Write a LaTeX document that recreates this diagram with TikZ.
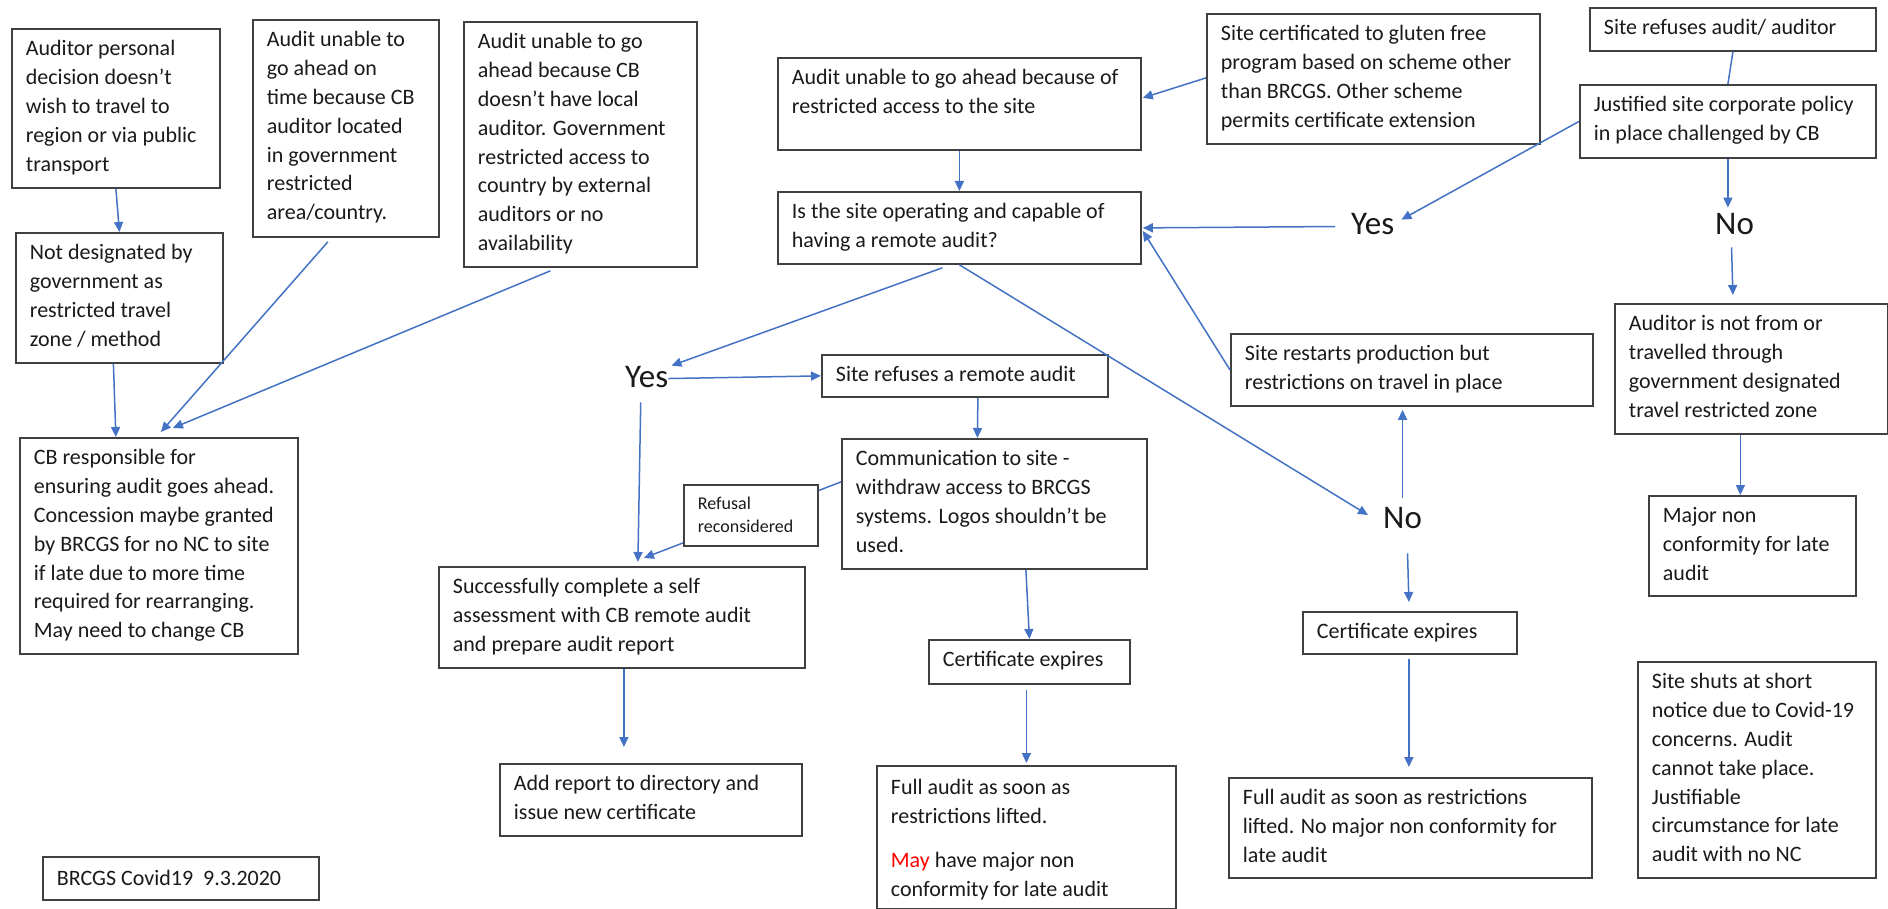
\documentclass[tikz,border=0pt]{standalone}
\usepackage{fontspec}
\setmainfont{Carlito}
\usetikzlibrary{arrows.meta,calc}
\definecolor{arr}{HTML}{4472C4}
\definecolor{edge}{HTML}{404040}
\definecolor{ink}{HTML}{1A1A1A}
\tikzset{
  bx/.style={draw=edge, line width=1.8pt, fill=white, inner sep=0pt, anchor=north west,
    text=ink, font=\fontsize{22}{28.8}\selectfont},
  con/.style={draw=arr, line width=1.5pt, -{Triangle[length=10pt,width=9pt]}},
  plain/.style={draw=arr, line width=1.5pt},
  lab/.style={inner sep=0pt, font=\fontsize{33}{36}\selectfont, text=ink, anchor=base west},
}
% [first baseline]{name}{x}{y}{w}{h}{text}
\newcommand{\bx}[7][27]{%
  \node[bx] (#2) at (#3,#4) {\hspace*{14pt}\parbox[t][#6pt][t]{\dimexpr#5pt-18pt\relax}{\raggedright\rule{0pt}{#1pt}#7}\hspace*{4pt}};%
}
\begin{document}
\begin{tikzpicture}[x=1pt,y=-1pt]
\useasboundingbox (0,0) rectangle (1888,909);
\fill[white] (0,0) rectangle (1888,909);

\bx{A}{11}{28}{208}{159}{Auditor personal\\decision doesn’t\\wish to travel to\\region or via public\\transport}
\bx{B}{252}{19}{186}{217}{Audit unable to\\go ahead on\\time because CB\\auditor located\\in government\\restricted\\area/country.}
\bx{C}{463}{21}{233}{245}{Audit unable to go\\ahead because CB\\doesn’t have local\\auditor. Government\\restricted access to\\country by external\\auditors or no\\availability}
\bx{D}{15}{232}{207}{130}{Not designated by\\government as\\restricted travel\\zone / method}
\bx{E}{19}{437}{278}{216}{CB responsible for\\ensuring audit goes ahead.\\Concession maybe granted\\by BRCGS for no NC to site\\if late due to more time\\required for rearranging.\\May need to change CB}
\bx{F}{777}{57}{363}{92}{Audit unable to go ahead because of\\restricted access to the site}
\bx{G}{777}{191}{363}{72}{Is the site operating and capable of\\having a remote audit?}
\bx{H}{1206}{13}{333}{130}{Site certificated to gluten free\\program based on scheme other\\than BRCGS. Other scheme\\permits certificate extension}
\bx{N}{1589}{7}{286}{43}{Site refuses audit/ auditor}
\bx{O}{1579}{84}{296}{73}{Justified site corporate policy\\in place challenged by CB}
\bx{M}{1614}{303}{273}{130}{Auditor is not from or\\travelled through\\government designated\\travel restricted zone}
\bx{R}{1230}{333}{362}{72}{Site restarts production but\\restrictions on travel in place}
\bx{I}{821}{354}{286}{42}{Site refuses a remote audit}
\bx{J}{841}{438}{305}{130}{Communication to site -\\withdraw access to BRCGS\\systems. Logos shouldn’t be\\used.}
\bx{K}{438}{566}{366}{101}{Successfully complete a self\\assessment with CB remote audit\\and prepare audit report}
\bx{L}{499}{763}{302}{72}{Add report to directory and\\issue new certificate}
\bx{CA}{928}{639}{201}{44}{Certificate expires}
\bx[29]{FA}{876}{765}{299}{143}{Full audit as soon as\\restrictions lifted.\\[15pt]\textcolor{red}{May} have major non\\conformity for late audit}
\bx{CB}{1302}{611}{214}{42}{Certificate expires}
\bx{FB}{1228}{777}{363}{100}{Full audit as soon as restrictions\\lifted. No major non conformity for\\late audit}
\bx{MJ}{1648}{495}{207}{100}{Major non\\conformity for late\\audit}
\bx{S}{1637}{661}{238}{216}{Site shuts at short\\notice due to Covid-19\\concerns. Audit\\cannot take place.\\Justifiable\\circumstance for late\\audit with no NC}
\bx[29]{FT}{42}{856}{276}{43}{BRCGS Covid19\ \ 9.3.2020}

\node[lab] (YL) at (625,387) {Yes};
\node[lab] (YR) at (1351,235) {Yes};
\node[lab] (NR) at (1715,235) {No};
\node[lab] (NB) at (1383,528) {No};

% connectors
\draw[con] (A.south) -- (D.north);
\draw[con] ($(D.south)+(-6,0)$) -- ($(E.north)+(-43,0)$);
\draw[con] ($(B.south)+(-18,4)$) -- ($(E.north)+(2,-5)$);
\draw[con] ($(C.south)+(-30,3)$) -- ($(E.north)+(14,-9)$);
\draw[con] (F.south) -- (G.north);
\draw[con] ($(H.west)+(0,-1)$) -- ($(F.east)+(1,-6)$);
\draw[con] ($(YR.west)+(-16,2)$) -- ($(G.east)+(1,0)$);
\draw[con] (O.west) -- ($(YR.north east)+(7,6)$);
\draw[con] (O.south) -- ($(O.south |- NR.north)+(0,-6)$);
\draw[plain] (N.south) -- (O.north);
\draw[con] ($(NR.south)+(-3,12)$) -- ($(M.north)+(-18.5,-8)$);
\draw[con] ($(M.south)+(-11,0)$) -- ($(MJ.north)+(-12,0)$);
\draw[con] ($(G.south)+(-17,3)$) -- ($(YL.north east)+(3,0)$);
\draw[con] ($(YL.east)+(0,2)$) -- (I.west);
\draw[con] ($(YL.south)+(-6,15)$) -- ($(K.north)+(16,-4)$);
\draw[con] ($(I.south)+(13,0)$) -- ($(J.north)+(-17,0)$);
\draw[con] ($(J.west)+(0,-22)$) -- ($(K.north)+(22,-8)$);
\draw[con] (G.south) -- ($(NB.west)+(-15,-2.5)$);
\draw[con] ($(NB.north)+(0,-9)$) -- ($(NB.north |- R.south)+(0,3)$);
\draw[con] (R.west) -- ($(G.east)+(1,3)$);
\draw[con] ($(NB.south)+(5,25)$) -- ($(CB.north)+(-1,-9)$);
\draw[con] ($(CB.south)+(-1,4)$) -- ($(CB.south |- FB.north)+(-1,-10)$);
\draw[con] ($(J.south)+(31.5,0)$) -- (CA.north);
\draw[con] ($(CA.south)+(-3,5)$) -- ($(FA.north)+(0,-2)$);
\draw[con] ($(K.south)+(2,0)$) -- ($(L.north)+(-27,-16)$);

% label box on the refusal connector
\node[bx, font=\fontsize{18}{22.3}\selectfont] (Q) at (683,484) {\hspace*{14pt}\parbox[t][61pt][t]{116pt}{\raggedright\rule{0pt}{25pt}Refusal\\reconsidered}\hspace*{4pt}};
\end{tikzpicture}
\end{document}
